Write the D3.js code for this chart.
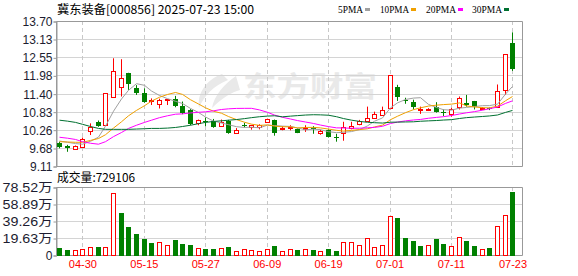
<!DOCTYPE html>
<html>
<head>
<meta charset="utf-8">
<script src="https://cdn.jsdelivr.net/npm/d3@7/dist/d3.min.js"></script>
<style>
  body { margin: 0; background: #fff; }
  svg { display: block; }
</style>
</head>
<body>
<svg width="578" height="276"></svg>
<script>
// trading days shown
const dates = ["04-25","04-28","04-29","04-30","05-06","05-07","05-08","05-09","05-12","05-13",
  "05-14","05-15","05-16","05-19","05-20","05-21","05-22","05-23","05-26","05-27",
  "05-28","05-29","05-30","06-03","06-04","06-05","06-06","06-09","06-10","06-11",
  "06-12","06-13","06-16","06-17","06-18","06-19","06-20","06-23","06-24","06-25",
  "06-26","06-27","06-30","07-01","07-02","07-03","07-04","07-07","07-08","07-09",
  "07-10","07-11","07-14","07-15","07-16","07-17","07-18","07-21","07-22","07-23"];

const opens = [9.85,9.74,9.65,9.72,10.21,10.51,10.42,11.31,11.61,12.04,
  11.57,11.43,11.18,11.07,11.19,11.22,11.01,10.88,10.48,10.54,
  10.54,10.38,10.54,10.17,10.41,10.36,10.36,10.51,10.56,10.27,
  10.30,10.28,10.27,10.30,10.15,10.24,10.03,10.15,10.32,10.44,
  10.53,10.62,10.74,10.94,11.62,11.19,11.15,10.87,10.87,10.99,
  10.83,10.75,10.97,11.12,11.17,10.91,10.94,10.99,11.50,13.00];
const highs = [9.88,9.78,9.76,10.01,10.46,10.55,11.41,12.52,12.49,12.06,
  11.67,11.57,11.25,11.24,11.23,11.33,11.15,10.91,10.58,10.65,
  10.60,10.58,10.57,10.31,10.48,10.41,10.43,10.61,10.58,10.37,
  10.40,10.30,10.40,10.37,10.26,10.27,10.13,10.51,10.51,10.57,
  10.99,10.83,10.99,11.99,11.68,11.27,11.21,10.99,10.94,11.13,
  10.90,10.95,11.31,11.36,11.17,10.97,10.96,11.69,12.64,13.34];
const lows = [9.67,9.56,9.64,9.70,10.09,10.35,10.42,11.31,11.31,11.52,
  11.36,11.11,11.04,10.93,11.04,10.97,10.75,10.40,10.40,10.37,
  10.32,10.35,10.13,10.17,10.33,10.26,10.27,10.48,10.07,10.24,
  10.24,10.15,10.19,10.13,10.10,10.01,9.88,9.91,10.27,10.40,
  10.52,10.61,10.70,10.90,11.17,11.08,10.90,10.76,10.85,10.80,
  10.69,10.67,10.90,10.99,10.90,10.88,10.88,10.97,11.36,12.12];
const closes = [9.72,9.67,9.75,9.97,10.35,10.38,11.41,12.11,11.91,11.72,
  11.43,11.15,11.21,11.20,11.22,11.01,10.80,10.43,10.56,10.51,
  10.35,10.51,10.16,10.24,10.39,10.40,10.40,10.59,10.17,10.30,
  10.35,10.16,10.30,10.27,10.22,10.03,10.01,10.35,10.39,10.53,
  10.62,10.75,10.87,11.99,11.31,11.16,10.97,10.93,10.93,10.83,
  10.80,10.90,11.25,11.04,10.97,10.94,10.91,11.47,12.64,12.18];

// volume in 万 shares, and bar colour (1 = red, 0 = green)
const volumes = [8.0,5.7,5.3,6.9,9.1,9.1,9.1,71.7,48.0,32.0,
  24.0,18.3,13.7,14.5,11.4,16.8,12.6,11.4,7.6,6.9,
  6.9,7.6,9.1,4.2,6.5,5.3,4.6,6.5,10.3,4.2,
  6.5,5.7,6.5,5.7,4.6,6.9,4.6,14.5,14.5,11.4,
  19.1,9.1,11.4,45.4,42.3,19.4,16.0,10.3,11.1,18.3,
  12.6,9.9,21.3,16.0,10.3,6.5,8.0,33.9,46.5,72.9106];
const volUp = [0,0,1,1,1,0,1,1,0,0, 0,0,0,1,1,0,0,0,1,0,
  0,1,0,1,1,1,1,1,0,1, 1,0,1,0,1,0,0,1,1,1,
  1,1,1,1,0,0,0,0,1,0, 0,1,1,0,0,1,0,1,1,0];

// moving average values before the window is full
const ma5Head = [9.90,9.86,9.82,9.80];
const ma10Head = [9.88,9.87,9.86,9.86,9.92,9.98,10.10,10.31,10.51];
const ma20Head = [10.02,9.99,9.95,9.88,9.83,9.80,9.88,10.04,10.17,10.30,
  10.40,10.49,10.56,10.64,10.70,10.75,10.76,10.79,10.81];
const ma30Head = [10.56,10.53,10.49,10.43,10.36,10.30,10.27,10.27,10.27,10.27,
  10.28,10.29,10.30,10.30,10.31,10.33,10.36,10.40,10.45,10.49,
  10.52,10.54,10.56,10.58,10.61,10.64,10.67,10.69,10.70];

const priceTicks = [9.11,9.68,10.26,10.83,11.40,11.98,12.55,13.13,13.70];
const volTicks = [0,19.63,39.26,58.89,78.52];
const dateTicks = ["04-30","05-15","05-27","06-09","06-19","07-01","07-11","07-23"];

const maNames = ["5PMA","10PMA","20PMA","30PMA"];
const maColors = ["#a0a0a0","#f0a000","#ff00ff","#007030"];
const RED = "#ff0000", GREEN = "#008000";

function movingAvg(n, head) {
  return closes.map((c, i) => i < n - 1 ? head[i] : d3.mean(closes.slice(i - n + 1, i + 1)));
}
const maSeries = [movingAvg(5, ma5Head), movingAvg(10, ma10Head), movingAvg(20, ma20Head), movingAvg(30, ma30Head)];

const svg = d3.select("svg");
const left = 56, right = 522;
const pTop = 21, pBot = 166, vTop = 187, vBot = 255;

const x = d3.scaleBand().domain(dates).range([left, left + 7.68 * dates.length]);
const xc = d => Math.floor(x(d) + x.bandwidth() / 2) + 0.5;
const y = d3.scaleLinear().domain([9.11, 13.70]).range([pBot, pTop]);
const yv = d3.scaleLinear().domain([0, 78.52]).range([vBot, vTop]);

// watermark
const wm = svg.append("g").attr("fill", "#e9e9e9");
wm.append("path").attr("d", "M222,74 C206,80 197,93 199,108 C204,96 213,86 228,80 Z M236,76 C224,84 214,96 212,108 C222,98 232,92 240,90 Z");
wm.append("text").attr("x", 243).attr("y", 97).attr("font-family", "Noto Sans CJK SC")
  .attr("font-weight", "bold").attr("font-size", 28).attr("textLength", 134)
  .attr("lengthAdjust", "spacingAndGlyphs").text("东方财富");

// grid lines
const grid = svg.append("g");
grid.selectAll(".hp").data(priceTicks.slice(1, -1)).join("line")
  .attr("x1", left).attr("x2", right)
  .attr("y1", d => Math.round(y(d)) + 0.5).attr("y2", d => Math.round(y(d)) + 0.5)
  .attr("stroke", "#d4d4d4");
grid.selectAll(".hv").data(volTicks.slice(1, -1)).join("line")
  .attr("x1", left).attr("x2", right)
  .attr("y1", d => Math.round(yv(d)) + 0.5).attr("y2", d => Math.round(yv(d)) + 0.5)
  .attr("stroke", "#d4d4d4");
[[pTop, pBot], [vTop, vBot]].forEach(([a, b]) => {
  grid.append("g").selectAll("line").data(dateTicks).join("line")
    .attr("x1", xc).attr("x2", xc).attr("y1", a).attr("y2", b)
    .attr("stroke", "#c8c8c8").attr("stroke-dasharray", "4,3");
});

// frames
const frame = svg.append("g").attr("fill", "none").attr("stroke", "#999");
frame.append("path").attr("d", `M${left + 0.5},${pTop + 0.5}H${right + 0.5}V${pBot + 0.5}H${left + 0.5}Z`);
frame.append("path").attr("d", `M${left + 0.5},${vTop + 0.5}H${right + 0.5}V${vBot + 0.5}H${left + 0.5}Z`);

// axes
const yAxis = svg.append("g").attr("transform", `translate(${left + 0.5},0.5)`)
  .call(d3.axisLeft(y).tickValues(priceTicks).tickSize(3).tickPadding(1).tickFormat(d3.format(".2f")));
const vAxis = svg.append("g").attr("transform", `translate(${left + 0.5},0.5)`)
  .call(d3.axisLeft(yv).tickValues(volTicks).tickSize(3).tickPadding(1)
    .tickFormat(d => d === 0 ? "0" : d.toFixed(2) + "万"));
[yAxis, vAxis].forEach(g => {
  g.select(".domain").attr("stroke", "#999");
  g.selectAll(".tick line").attr("stroke", "#999");
  g.selectAll("text").attr("font-family", "Liberation Sans, Noto Sans CJK SC")
    .attr("font-size", 12).attr("fill", "#1c1c30");
});
vAxis.selectAll("text").filter(d => d !== 0).attr("textLength", 50).attr("lengthAdjust", "spacingAndGlyphs");

const xAxis = svg.append("g").attr("transform", `translate(0,${vBot})`)
  .call(d3.axisBottom(x).tickValues(dateTicks).tickSize(0).tickPadding(5));
xAxis.select(".domain").remove();
xAxis.selectAll("text").attr("font-family", "Liberation Sans").attr("font-size", 11)
  .attr("fill", "#ff0000");

// candles
const candles = svg.append("g");
dates.forEach((d, i) => {
  const up = closes[i] >= opens[i];
  const col = up ? RED : GREEN;
  const cx = xc(d);
  candles.append("line").attr("x1", cx).attr("x2", cx)
    .attr("y1", y(highs[i])).attr("y2", y(lows[i])).attr("stroke", col);
  const top = Math.round(y(Math.max(opens[i], closes[i])));
  const bot = Math.round(y(Math.min(opens[i], closes[i])));
  if (up) {
    candles.append("rect").attr("x", cx - 2).attr("y", top + 0.5)
      .attr("width", 4).attr("height", Math.max(bot - top, 0.5))
      .attr("fill", "#fff").attr("stroke", RED);
  } else {
    candles.append("rect").attr("x", cx - 2.5).attr("y", top)
      .attr("width", 5).attr("height", Math.max(bot - top, 1)).attr("fill", GREEN);
  }
});

// moving averages
const line = d3.line().x((v, i) => xc(dates[i])).y(v => y(v));
svg.append("g").selectAll("path").data(maSeries).join("path")
  .attr("d", line).attr("fill", "none").attr("stroke-width", 1)
  .attr("stroke", (s, k) => maColors[k]);

// volume bars
const vols = svg.append("g");
dates.forEach((d, i) => {
  const cx = xc(d);
  const top = Math.round(yv(volumes[i]));
  if (volUp[i]) {
    vols.append("rect").attr("x", cx - 2).attr("y", top + 0.5)
      .attr("width", 4).attr("height", vBot - top)
      .attr("fill", "#fff").attr("stroke", RED);
  } else {
    vols.append("rect").attr("x", cx - 2.5).attr("y", top)
      .attr("width", 5).attr("height", vBot - top + 1).attr("fill", GREEN);
  }
});

// title, legend, volume label
svg.append("text").attr("x", 57).attr("y", 14)
  .attr("font-family", "Noto Sans CJK SC").attr("font-size", 12).attr("fill", "#000")
  .attr("textLength", 197).attr("lengthAdjust", "spacingAndGlyphs")
  .text("冀东装备[000856] 2025-07-23 15:00");

const legX = [338, 380, 426, 472], legW = [25, 29, 30, 30];
const leg = svg.append("g");
maNames.forEach((n, k) => {
  leg.append("text").attr("x", legX[k]).attr("y", 13)
    .attr("font-family", "Liberation Serif").attr("font-size", 11).attr("fill", "#000")
    .attr("textLength", legW[k]).attr("lengthAdjust", "spacingAndGlyphs").text(n);
  leg.append("rect").attr("x", legX[k] + legW[k] + 2).attr("y", 8)
    .attr("width", 5).attr("height", 3).attr("fill", maColors[k]);
});

svg.append("text").attr("x", 57).attr("y", 182)
  .attr("font-family", "Noto Sans CJK SC").attr("font-size", 12).attr("fill", "#000")
  .attr("textLength", 78).attr("lengthAdjust", "spacingAndGlyphs")
  .text("成交量:" + Math.round(volumes[volumes.length - 1] * 10000));
</script>
</body>
</html>
